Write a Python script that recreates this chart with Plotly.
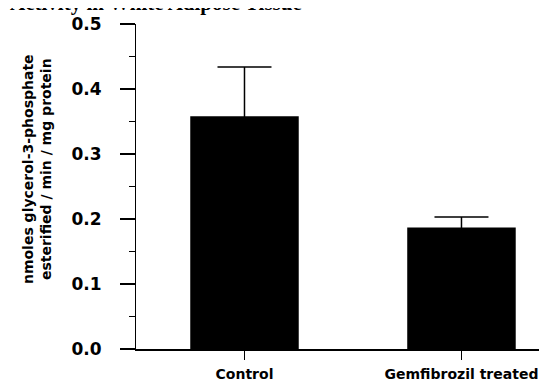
import plotly.graph_objects as go

categories = ["Control", "Gemfibrozil treated"]
values = [0.358, 0.187]
errors = [0.076, 0.016]
y_ticks = [0.0, 0.1, 0.2, 0.3, 0.4, 0.5]
y_tick_labels = ["0.0", "0.1", "0.2", "0.3", "0.4", "0.5"]
title_text = "Activity in White Adipose Tissue"
y_label = "nmoles glycerol-3-phosphate<br>esterified / min / mg protein"

xpos = list(range(len(categories)))

fig = go.Figure()
fig.add_trace(go.Bar(
    x=xpos, y=values, width=0.5,
    marker=dict(color="black", line=dict(width=0)),
    error_y=dict(type="data", array=errors, symmetric=True, visible=True,
                 color="black", thickness=1.5, width=27),
))

font_sans = "DejaVu Sans"
fig.update_layout(
    width=547, height=382,
    margin=dict(l=128, r=0, t=16, b=41),
    paper_bgcolor="white", plot_bgcolor="white",
    showlegend=False,
    xaxis=dict(
        range=[-0.5, 1.431], tickmode="array", tickvals=xpos, ticktext=categories,
        showline=True, linecolor="black", linewidth=1.5, showgrid=False, zeroline=False,
        ticks="outside", ticklen=9, tickcolor="black", tickwidth=1,
        ticklabelstandoff=2,
        tickfont=dict(family=font_sans, size=14, color="black", weight="bold"),
    ),
    yaxis=dict(
        range=[0, 0.5], tickmode="array", tickvals=y_ticks, ticktext=y_tick_labels,
        showline=True, linecolor="black", linewidth=1, showgrid=False, zeroline=False,
        ticks="outside", ticklen=15, tickcolor="black", tickwidth=1.5,
        ticklabelstandoff=15,
        tickfont=dict(family=font_sans, size=17, color="black", weight="bold"),
        minor=dict(dtick=0.05, ticks="outside", ticklen=6, tickcolor="black", tickwidth=1, showgrid=False),
    ),
    annotations=[
        dict(text=title_text, xref="paper", yref="paper", x=-0.305, y=1.02,
             xanchor="left", yanchor="bottom", showarrow=False,
             font=dict(family="Liberation Serif", size=21, color="black", weight="bold")),
        dict(text=y_label, xref="paper", yref="paper", x=-0.236, y=0.554,
             xanchor="center", yanchor="middle", showarrow=False, textangle=-90,
             font=dict(family=font_sans, size=14, color="black", weight="bold")),
    ],
)

fig.write_html("out.html")
